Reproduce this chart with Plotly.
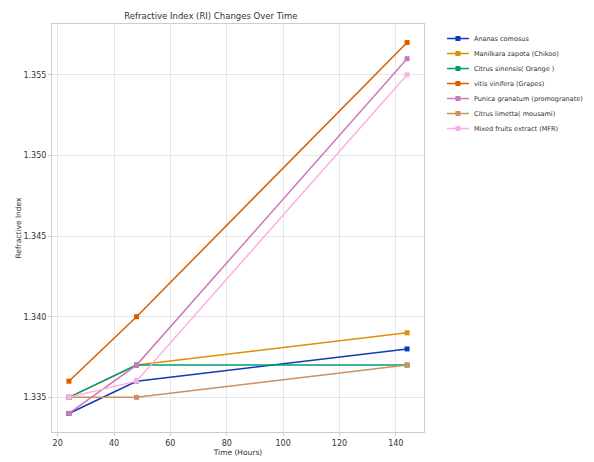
import plotly.graph_objects as go

time_hours = [24, 48, 144]
series_names = [
    "Ananas comosus",
    "Manilkara zapota (Chikoo)",
    "Citrus sinensis( Orange )",
    "vitis vinifera (Grapes)",
    "Punica granatum (promogranate)",
    "Citrus limetta( mousami)",
    "Mixed fruits extract (MFR)",
]
ananas = [1.334, 1.336, 1.338]
manilkara = [1.335, 1.337, 1.339]
citrus_sinensis = [1.335, 1.337, 1.337]
vitis = [1.336, 1.340, 1.357]
punica = [1.334, 1.337, 1.356]
citrus_limetta = [1.335, 1.335, 1.337]
mixed = [1.335, 1.336, 1.355]
all_values = [ananas, manilkara, citrus_sinensis, vitis, punica, citrus_limetta, mixed]
colors = ["#1239b5", "#DE8F05", "#029E73", "#D55E00", "#CC78BC", "#CA9161", "#FBAFE4"]

fig = go.Figure()
for name, vals, c in zip(series_names, all_values, colors):
    fig.add_trace(go.Scatter(
        x=time_hours, y=vals, name=name, mode="lines+markers",
        line=dict(color=c, width=1.5),
        marker=dict(color=c, size=5, symbol="square"),
    ))

fig.update_layout(
    width=594, height=462,
    margin=dict(l=52, r=170, t=24, b=30, autoexpand=False),
    paper_bgcolor="white", plot_bgcolor="white",
    font=dict(family="DejaVu Sans", size=8, color="#333333"),
    title=dict(text="Refractive Index (RI) Changes Over Time", x=0.355, xanchor="center",
               y=0.972, yanchor="top", font=dict(size=8.5, color="#333333")),
    showlegend=True,
    legend=dict(xref="container", yref="container", x=0.744, y=0.948,
                xanchor="left", yanchor="top",
                font=dict(size=6.5, color="#333333"), bgcolor="rgba(0,0,0,0)",
                tracegroupgap=0, itemwidth=30),
)
fig.update_xaxes(
    range=[18, 150], tickvals=[20, 40, 60, 80, 100, 120, 140],
    showgrid=True, gridcolor="#e6e6e6", gridwidth=1,
    showline=True, linecolor="#cccccc", mirror=True, zeroline=False,
    ticks="outside", ticklen=3, tickcolor="#cccccc",
    title=dict(text="Time (Hours)", font=dict(size=7.5), standoff=3),
    tickfont=dict(size=8),
)
fig.update_yaxes(
    range=[1.33285, 1.35815], tickvals=[1.335, 1.340, 1.345, 1.350, 1.355],
    tickformat=".3f",
    showgrid=True, gridcolor="#e6e6e6", gridwidth=1,
    showline=True, linecolor="#cccccc", mirror=True, zeroline=False,
    ticks="outside", ticklen=3, tickcolor="#cccccc",
    title=dict(text="Refractive Index", font=dict(size=7.5), standoff=0),
    tickfont=dict(size=8),
)

post = """
var gd = document.getElementById('{plot_id}');
var items = gd.querySelectorAll('.legend .traces');
var y0 = null;
items.forEach(function(el, i){
  var t = el.getAttribute('transform') || '';
  var m = t.match(/translate\\(([-\\d.]+)[ ,]+([-\\d.]+)\\)/);
  if (m) {
    if (y0 === null) { y0 = parseFloat(m[2]); }
    el.setAttribute('transform', 'translate(' + m[1] + ',' + (y0 + i * 15) + ')');
  }
  el.querySelectorAll('.legendlines path').forEach(function(p){ p.setAttribute('d', 'M5,0h22'); });
  el.querySelectorAll('.legendpoints path').forEach(function(p){ p.setAttribute('transform', 'translate(16,0)'); });
  el.querySelectorAll('.legendtext').forEach(function(tx){ tx.setAttribute('x', '32'); });
});
"""
fig.write_html("out.html", post_script=post)
